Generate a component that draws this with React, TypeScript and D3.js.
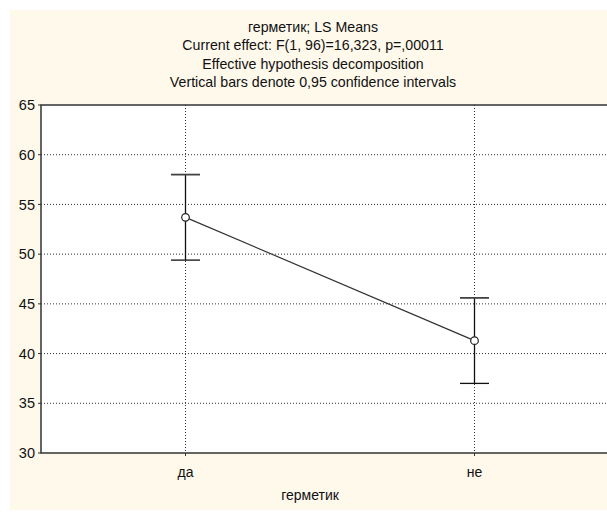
import React from 'react';
import * as d3 from 'd3';

// LS means with 0.95 confidence intervals per level of "герметик"
const categories = ['да', 'не'];
const means = [53.7, 41.3];
const lower = [49.4, 37.0];
const upper = [58.0, 45.6];
const yTicks = [30, 35, 40, 45, 50, 55, 60, 65];
const titleLines = [
  'герметик; LS Means',
  'Current effect: F(1, 96)=16,323, p=,00011',
  'Effective hypothesis decomposition',
  'Vertical bars denote 0,95 confidence intervals',
];
const xTitle = 'герметик';

const W = 607;
const H = 516;
const plot = { left: 41, right: 619, top: 105, bottom: 453 };
const font = '"Liberation Sans", Arial, sans-serif';

export default function App() {
  const x = d3.scalePoint<string>().domain(categories).range([plot.left, plot.right]).padding(0.5);
  const y = d3.scaleLinear().domain([30, 65]).range([plot.bottom, plot.top]);
  const pts = categories.map((c, i) => ({ c, m: means[i], lo: lower[i], hi: upper[i] }));
  const line = d3
    .line<{ c: string; m: number }>()
    .x((d) => x(d.c) as number)
    .y((d) => y(d.m));
  const capHalf = 14.5;
  const titleX = 313;

  return (
    <div style={{ position: 'absolute', left: 0, top: 0 }}>
      <svg width={W} height={H} style={{ display: 'block', background: '#ffffff' }}>
        <rect x={10} y={10} width={W - 10} height={500} fill="#fff9ec" />
        <rect x={plot.left} y={plot.top} width={plot.right - plot.left} height={plot.bottom - plot.top} fill="#ffffff" />

        {titleLines.map((t, i) => (
          <text key={i} x={titleX} y={32 + i * 18.3} textAnchor="middle" fontFamily={font} fontSize={14.2} fill="#111">
            {t}
          </text>
        ))}

        {/* horizontal grid */}
        {yTicks
          .filter((t) => t !== 30 && t !== 65)
          .map((t) => (
            <line key={t} x1={plot.left} x2={plot.right} y1={y(t)} y2={y(t)} stroke="#333" strokeWidth={1} strokeDasharray="1 2" />
          ))}
        {/* vertical grid at categories */}
        {categories.map((c) => (
          <line key={c} x1={x(c)} x2={x(c)} y1={plot.top} y2={plot.bottom} stroke="#333" strokeWidth={1} strokeDasharray="1 2" />
        ))}

        {/* frame */}
        <rect
          x={plot.left}
          y={plot.top}
          width={plot.right - plot.left}
          height={plot.bottom - plot.top}
          fill="none"
          stroke="#333"
          strokeWidth={1.5}
        />

        {/* y tick labels */}
        {yTicks.map((t) => (
          <g key={t}>
            <line x1={plot.left - 3} x2={plot.left} y1={y(t)} y2={y(t)} stroke="#333" />
            <text x={35} y={y(t)} dy="0.35em" textAnchor="end" fontFamily={font} fontSize={14.5} fill="#111">
              {t}
            </text>
          </g>
        ))}

        {/* x tick labels */}
        {categories.map((c) => (
          <g key={c}>
            <line x1={x(c)} x2={x(c)} y1={plot.bottom} y2={plot.bottom + 3} stroke="#333" />
            <text x={x(c)} y={477} textAnchor="middle" fontFamily={font} fontSize={14} fill="#111">
              {c}
            </text>
          </g>
        ))}
        <text x={titleX - 3} y={500} textAnchor="middle" fontFamily={font} fontSize={14} fill="#111">
          {xTitle}
        </text>

        {/* error bars */}
        {pts.map((p) => {
          const cx = x(p.c) as number;
          return (
            <g key={p.c} stroke="#111" strokeWidth={1.3}>
              <line x1={cx} x2={cx} y1={y(p.hi)} y2={y(p.lo)} />
              <line x1={cx - capHalf} x2={cx + capHalf} y1={y(p.hi)} y2={y(p.hi)} stroke="#444" strokeWidth={1.8} />
              <line x1={cx - capHalf} x2={cx + capHalf} y1={y(p.lo)} y2={y(p.lo)} />
            </g>
          );
        })}

        {/* mean line and markers */}
        <path d={line(pts) || ''} fill="none" stroke="#333" strokeWidth={1.2} />
        {pts.map((p) => (
          <circle key={p.c} cx={x(p.c)} cy={y(p.m)} r={3.8} fill="#fff" stroke="#222" strokeWidth={1.2} />
        ))}
      </svg>
    </div>
  );
}
